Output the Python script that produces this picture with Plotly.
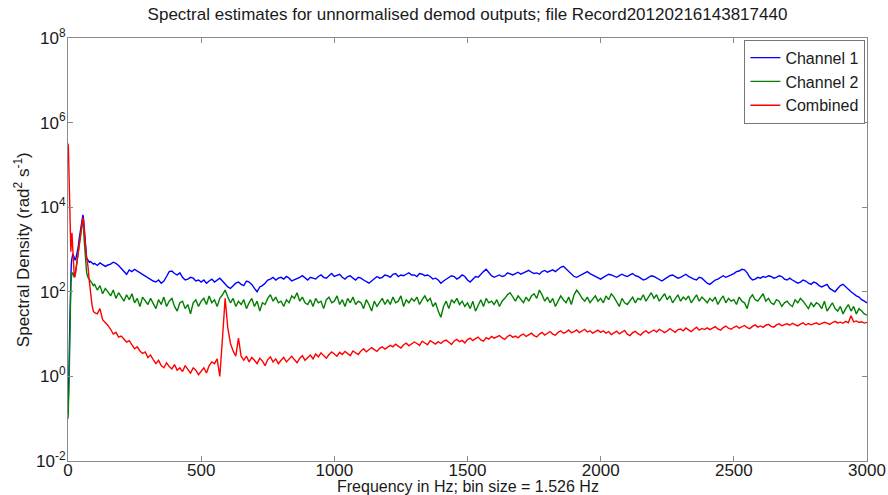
import plotly.graph_objects as go

# Frequency bins (Hz)
freq_low = [0, 1.5, 3, 4.5, 6, 7.6, 9, 10.7, 12, 13.7, 15, 18, 21, 24, 27, 30, 34, 38, 42, 46,
            50, 53, 56, 58, 61, 64, 67, 70, 75, 80, 85, 90, 95]
freq_high = list(range(100, 3001, 10))
freq = freq_low + freq_high

# Channel 1 spectral density (rad^2 s^-1)
ch1_low = [0.13, 0.25, 0.63, 2.5, 10, 40, 100, 250, 400, 560, 710, 790, 710, 630, 560, 630, 790, 1100, 1800, 2800,
           4000, 5600, 6600, 5600, 3200, 1600, 890, 630, 560, 500, 520, 480, 450]
ch1_high = [
    470, 420, 480, 440, 400, 430, 450, 500, 470, 420,
    360, 300, 260, 330, 300, 340, 310, 280, 260, 240,
    220, 200, 180, 170, 190, 160, 180, 230, 300, 310,
    270, 250, 280, 220, 190, 200, 220, 210, 180, 190,
    170, 190, 160, 180, 200, 170, 190, 210, 180, 150,
    130, 120, 140, 160, 170, 150, 140, 180, 170, 150,
    120, 100, 130, 140, 160, 190, 200, 220, 190, 210,
    220, 200, 230, 210, 180, 190, 200, 220, 240, 210,
    190, 220, 210, 200, 230, 250, 220, 210, 240, 270,
    230, 250, 260, 220, 200, 230, 240, 210, 190, 220,
    210, 190, 170, 160, 180, 200, 230, 210, 220, 250,
    240, 220, 260, 270, 230, 250, 240, 260, 280, 250,
    250, 230, 270, 260, 240, 250, 230, 200, 210, 190,
    160, 180, 200, 220, 240, 230, 200, 220, 250, 230,
    190, 170, 200, 230, 220, 260, 300, 340, 280, 240,
    220, 230, 250, 230, 240, 280, 260, 250, 270, 290,
    260, 280, 300, 320, 290, 270, 280, 260, 300, 320,
    290, 310, 330, 300, 340, 380, 400, 350, 300, 270,
    230, 220, 240, 260, 280, 300, 270, 250, 230, 220,
    200, 220, 240, 260, 250, 230, 220, 240, 260, 240,
    230, 250, 270, 240, 230, 210, 190, 200, 220, 240,
    230, 210, 190, 180, 200, 220, 240, 250, 230, 210,
    220, 240, 260, 230, 210, 200, 190, 220, 210, 180,
    160, 150, 170, 190, 200, 220, 240, 220, 230, 250,
    270, 300, 310, 340, 330, 280, 220, 190, 200, 220,
    210, 230, 220, 240, 230, 210, 220, 240, 230, 200,
    190, 210, 190, 170, 160, 170, 190, 180, 160, 150,
    170, 160, 140, 130, 140, 150, 120, 110, 100, 120,
    140, 150, 130, 110, 100, 90, 80, 75, 65, 60,
    55]

# Channel 2 spectral density
ch2_low = [0.1, 0.16, 0.4, 1.0, 6.3, 32, 79, 160, 200, 250, 280, 280, 250, 220, 250, 350, 560, 890, 1400, 2200,
           3200, 4000, 4500, 3500, 1600, 790, 400, 280, 220, 200, 180, 160, 140]
ch2_high = [
    150, 110, 140, 90, 120, 100, 80, 110, 70, 95,
    75, 60, 85, 65, 90, 55, 70, 45, 75, 60,
    50, 70, 55, 40, 65, 50, 75, 45, 60, 70,
    45, 35, 55, 60, 40, 50, 30, 55, 65, 45,
    60, 70, 50, 80, 55, 65, 45, 70, 85, 110,
    75, 55, 70, 45, 60, 50, 65, 40, 55, 70,
    45, 60, 35, 55, 50, 70, 85, 60, 75, 55,
    60, 45, 65, 55, 80, 70, 95, 60, 75, 55,
    50, 65, 45, 70, 55, 60, 40, 65, 75, 55,
    60, 80, 50, 65, 45, 70, 55, 75, 50, 60,
    55, 40, 65, 50, 35, 60, 45, 55, 70, 50,
    65, 50, 75, 55, 60, 80, 45, 65, 55, 70,
    60, 75, 50, 65, 80, 60, 70, 45, 55, 35,
    25, 45, 60, 40, 65, 55, 70, 50, 60, 45,
    55, 40, 60, 35, 50, 65, 45, 70, 55, 60,
    50, 65, 45, 60, 70, 85, 95, 75, 60, 80,
    65, 55, 75, 60, 80, 90, 70, 110, 85, 60,
    75, 55, 70, 45, 60, 80, 65, 55, 75, 50,
    85, 110, 90, 70, 60, 75, 55, 65, 80, 60,
    70, 55, 80, 65, 90, 75, 60, 45, 70, 55,
    50, 60, 75, 55, 70, 65, 85, 60, 75, 95,
    70, 85, 60, 75, 90, 65, 80, 55, 70, 85,
    60, 75, 65, 80, 55, 70, 85, 60, 75, 65,
    55, 70, 60, 75, 50, 65, 80, 55, 70, 60,
    65, 50, 75, 60, 55, 40, 70, 85, 65, 60,
    75, 90, 60, 70, 55, 50, 65, 60, 45, 55,
    60, 50, 45, 65, 55, 70, 60, 50, 40, 55,
    45, 55, 50, 40, 60, 35, 45, 55, 40, 35,
    45, 30, 40, 50, 35, 45, 30, 40, 35, 30,
    28]

# Combined spectral density
comb_low = [320000, 250000, 100000, 40000, 10000, 3200, 1000, 890, 1260, 2000, 2500, 1000, 400, 220, 250, 350, 560,
            790, 1260, 2000, 3200, 4500, 5600, 5000, 2500, 1260, 890, 630, 400, 180, 89, 50, 35]
comb_high = [
    32, 30, 40, 22, 19, 16, 13, 10, 11, 8.5,
    9, 7.5, 6.5, 7, 5.5, 4.5, 5, 4, 3.5, 3.8,
    2.8, 3.2, 2.5, 2.0, 2.4, 1.8, 1.6, 2.1, 1.7, 1.5,
    1.9, 1.4, 1.6, 1.3, 1.8, 1.5, 1.2, 1.6, 1.4, 1.1,
    1.3, 1.6, 1.2, 1.8, 2.2, 2.0, 2.6, 1.0, 8, 70,
    14, 6, 4, 3, 8, 3, 2.4, 3, 2.2, 2.8,
    2.4, 2.0, 2.7, 2.3, 1.8, 2.5, 2.9, 2.2, 2.6, 2.0,
    2.4, 2.8, 2.2, 2.6, 3.0, 2.5, 2.1, 2.7, 3.1, 2.4,
    2.8, 3.2, 2.6, 3.4, 2.9, 3.6, 3.1, 2.7, 3.3, 3.8,
    3.4, 3.0, 3.7, 3.3, 3.9, 3.5, 3.1, 4.0, 3.6, 3.3,
    4.0, 4.5, 3.8, 4.2, 4.8, 4.3, 3.9, 4.6, 5.0, 4.4,
    4.8, 5.4, 5.0, 5.8, 5.2, 4.7, 5.6, 6.1, 5.3, 5.9,
    6.5, 6.0, 5.4, 6.8, 6.2, 5.6, 7.0, 6.3, 5.8, 6.6,
    6.0, 6.8, 7.2, 6.4, 5.7, 6.9, 7.5, 6.6, 7.1, 6.2,
    7.4, 8.0, 7.0, 7.8, 8.5, 7.3, 6.8, 8.2, 7.6, 8.8,
    8.0, 8.6, 9.2, 8.1, 7.5, 8.8, 9.5, 8.4, 9.0, 8.2,
    9.4, 10, 8.8, 9.6, 10.5, 9.2, 8.6, 10, 11, 9.5,
    10.5, 11.5, 10, 9.4, 11, 12, 10.5, 11.2, 12.5, 10.8,
    11.5, 12.5, 10.8, 11.8, 13, 11.2, 12, 10.5, 11.6, 12.4,
    11, 12, 10.5, 11.5, 9.8, 10.6, 11.8, 10.2, 11, 12.2,
    10, 9.2, 10.8, 11.6, 10.2, 9.5, 11, 12, 10.6, 11.4,
    12.5, 11.2, 13, 12, 10.8, 11.8, 13.5, 12.2, 11, 12.8,
    13.2, 12, 14, 12.6, 11.5, 13, 14.5, 12.4, 13.6, 12.8,
    14, 12.8, 13.6, 15, 13.2, 12.4, 14.2, 15.5, 13.8, 13,
    14.5, 15.5, 13.8, 14.8, 16, 14.2, 13.5, 15.2, 16.5, 14.6,
    15.6, 14.4, 16.2, 17, 15.2, 14.6, 16.5, 17.5, 15.8, 16.8,
    17.5, 16.2, 18, 16.8, 15.6, 17.2, 18.5, 16.4, 17.8, 16.6,
    17.4, 18.5, 16.8, 17.8, 19, 18.2, 17, 18.8, 20, 18.4,
    19.2, 18, 20, 18.6, 27, 19.5, 20.5, 18.8, 19.6, 18.2,
    19]

ch1 = ch1_low + ch1_high
ch2 = ch2_low + ch2_high
comb = comb_low + comb_high

series_names = ["Channel 1", "Channel 2", "Combined"]
series_colors = ["#0000ff", "#008000", "#ff0000"]

x_ticks = [0, 500, 1000, 1500, 2000, 2500, 3000]
y_tick_vals = [1e-2, 1e0, 1e2, 1e4, 1e6, 1e8]
y_tick_text = ["10<sup>-2</sup>", "10<sup>0</sup>", "10<sup>2</sup>", "10<sup>4</sup>", "10<sup>6</sup>", "10<sup>8</sup>"]

FONT = "Liberation Sans, Arial, sans-serif"
TXT = "#1a1a1a"

fig = go.Figure()
for name, ys, col in zip(series_names, [ch1, ch2, comb], series_colors):
    fig.add_trace(go.Scatter(x=freq, y=ys, mode="lines", name=name,
                             line=dict(color=col, width=1.4)))

axis_common = dict(showgrid=False, zeroline=False, showline=True, linecolor="#8a8a8a", linewidth=1,
                   mirror="ticks", ticks="inside", ticklen=5, tickcolor="#8a8a8a", automargin=False,
                   tickfont=dict(family=FONT, size=17, color=TXT))

fig.update_layout(
    width=888, height=495,
    paper_bgcolor="white", plot_bgcolor="white",
    margin=dict(l=68, r=21, t=38, b=34),
    font=dict(family=FONT, color=TXT),
    title=dict(text="Spectral estimates for unnormalised demod outputs; file Record20120216143817440",
               x=0.5, xanchor="center", xref="paper", y=0.972, yref="container", yanchor="middle",
               font=dict(family=FONT, size=17, color=TXT)),
    xaxis=dict(range=[0, 3000], tickvals=x_ticks, ticklabelstandoff=-6, **axis_common),
    yaxis=dict(type="log", range=[-2, 8], tickvals=y_tick_vals, ticktext=y_tick_text,
               ticklabelstandoff=-2, **axis_common),
    legend=dict(x=0.998, xanchor="right", y=0.996, yanchor="top", bgcolor="white",
                bordercolor="#777777", borderwidth=1, font=dict(family=FONT, size=16, color=TXT),
                tracegroupgap=0),
    showlegend=True,
)

fig.add_annotation(text="Frequency in Hz; bin size = 1.526 Hz", xref="paper", yref="paper",
                   x=0.5, y=-0.061, xanchor="center", yanchor="middle", showarrow=False,
                   font=dict(family=FONT, size=16, color=TXT))
fig.add_annotation(text="Spectral Density (rad<sup>2</sup> s<sup>-1</sup>)", xref="paper", yref="paper",
                   x=-0.058, y=0.5, xanchor="center", yanchor="middle", textangle=-90, showarrow=False,
                   font=dict(family=FONT, size=17, color=TXT))

fig.write_html("out.html", config={"displayModeBar": False},
               post_script="document.body.style.margin='0';document.body.style.padding='0';")
